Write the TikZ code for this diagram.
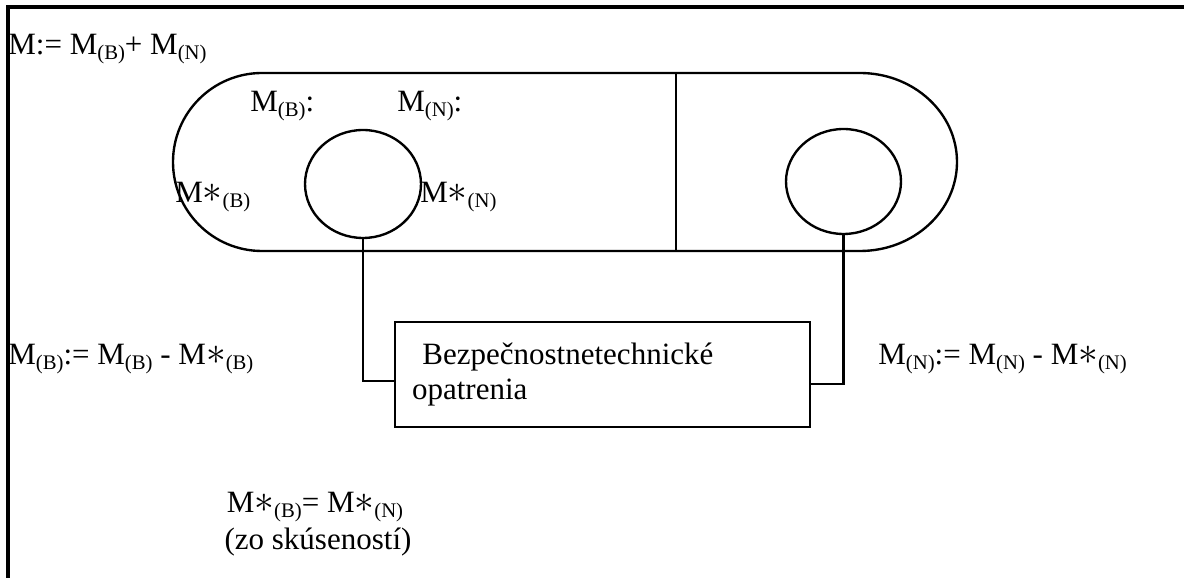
\documentclass[tikz,border=0pt]{standalone}
\usepackage{fontspec}
\setmainfont{Liberation Serif}
\usetikzlibrary{shapes.geometric, calc}
\newcommand{\indx}[1]{\raisebox{-0.16em}{\fontsize{11.8}{12}\selectfont #1}}
\newcommand{\Mst}{M\scalebox{1.3}{$\ast$}}

\begin{document}
\begin{tikzpicture}[x=0.02cm, y=0.02cm,
    every node/.style={font=\fontsize{17.65}{19.9}\selectfont},
    lbl/.style={anchor=base west, inner sep=0pt},
    trait/.style={line width=1.35pt},
    bulle/.style={trait, draw, ellipse, inner sep=0pt}]
    \useasboundingbox (0,0) rectangle (1184,578);
    % cadre
    \draw[line width=1.8pt] (8,0) -- (8,571) -- (1184,571);
    \draw[trait] (262,505) -- (860,505)
      arc[start angle=90, end angle=-90, x radius=97, y radius=89]
      -- (262,327) arc[start angle=270, end angle=90, radius=89];
    \draw[trait] (676,505) -- (676,327);
    \node[bulle, minimum width=2.32cm, minimum height=2.16cm] (zdrojB) at (363,394) {};
    \node[bulle, minimum width=2.3cm, minimum height=2.1cm] (zdrojN) at (843.5,396.5) {};
    \node[draw, trait, minimum width=8.3cm, minimum height=2.1cm, text width=7.62cm,
      inner xsep=0.34cm, inner ysep=0pt, align=left] (opatrenia) at (602.5,203.5)
      {\ Bezpečnostnetechnické\\opatrenia};
    \draw[trait] (zdrojB.south) |- ($(opatrenia.west)+(0,-6.5)$);
    \draw[trait] (zdrojN.south) |- ($(opatrenia.east)+(0,-9.5)$);
    % texty
    \node[lbl] (vzorec) at (8,523) {M:= M\indx{(B)}+ M\indx{(N)}};
    \node[lbl] (mB) at (250,466) {M\indx{(B)}:};
    \node[lbl] (mN) at (397,466) {M\indx{(N)}:};
    \node[lbl] (mhvB) at (175,375) {\Mst\indx{(B)}};
    \node[lbl] (mhvN) at (420,375) {\Mst\indx{(N)}};
    \node[lbl] (zostB) at (8,213) {M\indx{(B)}:= M\indx{(B)} - \Mst\indx{(B)}};
    \node[lbl] (zostN) at (878,213) {M\indx{(N)}:= M\indx{(N)} - \Mst\indx{(N)}};
    \node[anchor=base, inner sep=0pt] (rovnost) at (315,65) {\Mst\indx{(B)}= \Mst\indx{(N)}};
    \node[anchor=base, inner sep=0pt] (skus) at (318,28) {(zo skúseností)};
\end{tikzpicture}
\end{document}
